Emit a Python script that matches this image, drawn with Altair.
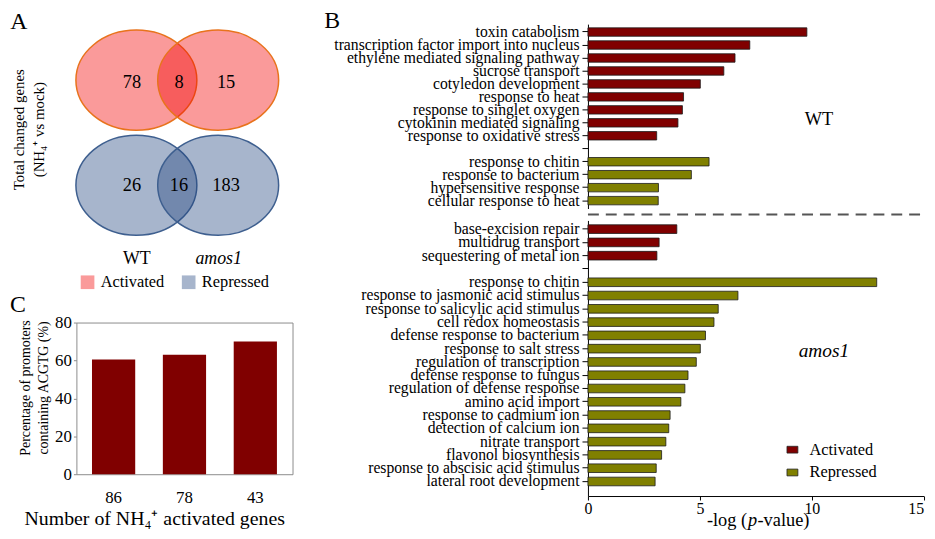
import altair as alt
import pandas as pd

FONT = "Liberation Serif"
W, H = 927, 523

# ---------------- Panel A (Venn) ----------------
venn_sets = ["WT", "amos1"]
venn_regs = ["Activated", "Repressed"]
venn_regions = ["WT only", "both", "amos1 only"]
venn_act_counts = [78, 8, 15]
venn_rep_counts = [26, 16, 183]

# ---------------- Panel C ----------------
c_cats = ["86", "78", "43"]
c_vals = [60.5, 63.0, 70.0]

# ---------------- Panel B ----------------
wt_act_terms = ["toxin catabolism", "transcription factor import into nucleus",
                "ethylene mediated signaling pathway", "sucrose transport",
                "cotyledon development", "response to heat",
                "response to singlet oxygen", "cytokinin mediated signaling",
                "response to oxidative stress"]
wt_act_vals = [9.78, 7.23, 6.57, 6.07, 5.02, 4.27, 4.22, 4.02, 3.07]
wt_rep_terms = ["response to chitin", "response to bacterium\u00a0",
                "hypersensitive response", "cellular response to heat"]
wt_rep_vals = [5.41, 4.62, 3.15, 3.14]

am_act_terms = ["base-excision repair", "multidrug transport",
                "sequestering of metal ion"]
am_act_vals = [3.97, 3.18, 3.08]
am_rep_terms = ["response to chitin", "response to jasmonic acid stimulus",
                "response to salicylic acid stimulus", "cell redox homeostasis",
                "defense response to bacterium", "response to salt stress",
                "regulation of transcription", "defense response to fungus",
                "regulation of defense response", "amino acid import",
                "response to cadmium ion", "detection of calcium ion",
                "nitrate transport", "flavonol biosynthesis",
                "response to abscisic acid stimulus", "lateral root development"]
am_rep_vals = [12.9, 6.70, 5.82, 5.63, 5.25, 5.02, 4.84, 4.47, 4.33, 4.15,
               3.67, 3.61, 3.48, 3.29, 3.05, 3.00]

# ---------------- tables ----------------
venn_df = pd.DataFrame([{"set": s, "reg": r} for r in venn_regs for s in venn_sets])
venn_txt = pd.DataFrame(
    [{"reg": "Activated", "region": g, "count": c} for g, c in zip(venn_regions, venn_act_counts)]
    + [{"reg": "Repressed", "region": g, "count": c} for g, c in zip(venn_regions, venn_rep_counts)]
)
c_df = pd.DataFrame({"n": c_cats, "pct": c_vals})

wt_df = pd.DataFrame({
    "term": wt_act_terms + wt_rep_terms,
    "val": wt_act_vals + wt_rep_vals,
    "type": ["Activated"] * len(wt_act_terms) + ["Repressed"] * len(wt_rep_terms),
})
am_df = pd.DataFrame({
    "term": am_act_terms + am_rep_terms,
    "val": am_act_vals + am_rep_vals,
    "type": ["Activated"] * len(am_act_terms) + ["Repressed"] * len(am_rep_terms),
})
wt_domain = wt_act_terms + ["gap"] + wt_rep_terms
am_domain = am_act_terms + ["gap"] + am_rep_terms

ellipse_path = ("M1,0 C1,0.4573 0.5523,0.828 0,0.828 C-0.5523,0.828 -1,0.4573 -1,0 "
                "C-1,-0.4573 -0.5523,-0.828 0,-0.828 C0.5523,-0.828 1,-0.4573 1,0 Z")
rect_path = "M-1,-0.62 H1 V0.62 H-1 Z"

# ---- Venn ellipses ----
venn_layer = alt.Chart(venn_df).mark_point(
    filled=True, shape=ellipse_path, size=14884, opacity=1,
    fillOpacity=0.4, strokeOpacity=1, strokeWidth=1.5
).encode(
    x=alt.X("set:N", scale=alt.Scale(type="point", domain=venn_sets, range=[129.5, 212], padding=0),
            axis=alt.Axis(orient="bottom", offset=-282, domain=False, ticks=False, grid=False,
                          labelFont=FONT, labelFontSize=18, labelColor="black", labelAngle=0,
                          labelPadding=0, title=None,
                          labelFontStyle={"condition": {"test": "datum.value == 'amos1'", "value": "italic"},
                                          "value": "normal"})),
    y=alt.Y("reg:N", scale=alt.Scale(type="point", domain=venn_regs, range=[70.5, 176.5], padding=0),
            axis=None),
    color=alt.Color("reg:N", scale=alt.Scale(domain=venn_regs, range=["#f20303", "#23467f"]),
                    legend=alt.Legend(orient="none", legendX=72, legendY=266, direction="horizontal",
                                      title=None, symbolType="square", symbolSize=190,
                                      symbolOpacity=0.4, symbolStrokeWidth=0,
                                      labelFont=FONT, labelFontSize=16.5, labelColor="black",
                                      labelOffset=5, columnPadding=16, padding=0)),
    stroke=alt.Stroke("reg:N", scale=alt.Scale(domain=venn_regs, range=["#e8731c", "#3e5f8f"]),
                      legend=None),
)

venn_num = alt.Chart(venn_txt).mark_text(font=FONT, fontSize=18.5, color="black").encode(
    x=alt.X("region:N", scale=alt.Scale(type="point", domain=venn_regions, range=[125, 220], padding=0),
            axis=None),
    y=alt.Y("reg:N", scale=alt.Scale(type="point", domain=venn_regs, range=[72.5, 176.5], padding=0),
            axis=None),
    text="count:Q",
)

a_title = alt.Chart(pd.DataFrame({"t": [["Total changed genes", "(NH\u2084\u207a vs mock)"]]})).mark_text(
    font=FONT, fontSize=15, angle=270, align="center", baseline="middle", lineHeight=20, color="black"
).encode(x=alt.value(11.5), y=alt.value(120.5), text="t")

# ---- Panel C ----
c_bars = alt.Chart(c_df).mark_bar(color="#800000").encode(
    x=alt.X("n:N", sort=c_cats,
            scale=alt.Scale(domain=c_cats, range=[69, 287], paddingInner=0.39, paddingOuter=0.22),
            axis=alt.Axis(orient="bottom", offset=-55, ticks=False, grid=False, domainColor="#8c8c8c",
                          labelFont=FONT, labelFontSize=17, labelColor="black", labelAngle=0,
                          labelPadding=16, title=None)),
    y=alt.Y("pct:Q", scale=alt.Scale(domain=[0, 80], range=[468, 315], nice=False, zero=True),
            axis=alt.Axis(orient="left", offset=-69, values=[0, 20, 40, 60, 80], grid=False,
                          tickSize=3, tickColor="#8c8c8c", domainColor="#8c8c8c",
                          labelFont=FONT, labelFontSize=17, labelColor="black",
                          labelPadding=2, title=None)),
)
c_frame = alt.Chart(c_df).mark_bar(opacity=0).encode(
    x=alt.X("n:N", sort=c_cats,
            scale=alt.Scale(domain=c_cats, range=[69, 287], paddingInner=0.39, paddingOuter=0.22),
            axis=alt.Axis(orient="top", offset=-315, ticks=False, labels=False, grid=False,
                          domainColor="#8c8c8c", title=None)),
    y=alt.Y("pct:Q", scale=alt.Scale(domain=[0, 80], range=[468, 315], nice=False),
            axis=alt.Axis(orient="right", offset=-640, ticks=False, labels=False, grid=False,
                          domainColor="#8c8c8c", title=None)),
)
c_ytitle = alt.Chart(pd.DataFrame({"t": [["Percentage of promoters", "containing ACGTG (%)"]]})).mark_text(
    font=FONT, fontSize=14, angle=270, align="center", baseline="middle", lineHeight=18, color="black"
).encode(x=alt.value(18), y=alt.value(381), text="t")
c_xtitle = alt.Chart(pd.DataFrame({"t": ["Number of NH\u2084\u207a activated genes"]})).mark_text(
    font=FONT, fontSize=20, align="center", baseline="alphabetic", color="black"
).encode(x=alt.value(148), y=alt.value(519), text="t")

# ---- Panel B ----
x_scale_b = alt.Scale(domain=[0, 15], range=[585, 923.7], nice=False, zero=True)
color_b = alt.Scale(domain=["Activated", "Repressed"], range=["#800000", "#808000"])
label_expr = "datum.value == 'gap' ? '' : datum.value"

wt_bars = alt.Chart(wt_df).mark_bar(stroke="#1a1a1a", strokeWidth=0.8).encode(
    x=alt.X("val:Q", scale=x_scale_b, axis=None),
    y=alt.Y("term:N", sort=wt_domain,
            scale=alt.Scale(domain=wt_domain, range=[14, 200], paddingInner=0.35,
                            paddingOuter=0.285, align=0.5),
            axis=alt.Axis(orient="left", offset=-585, tickSize=6, tickColor="black",
                          domainColor="black", grid=False, labelExpr=label_expr,
                          labelFont=FONT, labelFontSize=15.8, labelColor="black",
                          labelPadding=3, title=None, labelLimit=400)),
    color=alt.Color("type:N", scale=color_b, legend=None),
)
am_bars = alt.Chart(am_df).mark_bar(stroke="#1a1a1a", strokeWidth=0.8).encode(
    x=alt.X("val:Q", scale=x_scale_b,
            axis=alt.Axis(orient="bottom", offset=-33, values=[0, 5, 10, 15], tickSize=4,
                          tickColor="black", domainColor="black", grid=False, labelFlush=False,
                          labelOverlap=False, labelFont=FONT, labelFontSize=16,
                          labelAlign={"condition": {"test": "datum.value == 15", "value": "right"},
                                      "value": "center"},
                          labelColor="black", labelPadding=1, title=None)),
    y=alt.Y("term:N", sort=am_domain,
            scale=alt.Scale(domain=am_domain, range=[212, 490], paddingInner=0.35,
                            paddingOuter=0.55, align=0.3),
            axis=alt.Axis(orient="left", offset=-585, tickSize=6, tickColor="black",
                          domainColor="black", grid=False, labelExpr=label_expr,
                          labelFont=FONT, labelFontSize=15.8, labelColor="black",
                          labelPadding=3, title=None, labelLimit=400)),
    color=alt.Color("type:N", scale=color_b,
                    legend=alt.Legend(orient="none", legendX=783, legendY=435, direction="vertical",
                                      title=None, symbolType=rect_path, symbolSize=121,
                                      symbolStrokeColor="#222222", symbolStrokeWidth=0.8,
                                      labelFont=FONT, labelFontSize=16.5, labelColor="black",
                                      labelOffset=9, rowPadding=6, padding=0)),
)

sep = alt.Chart(pd.DataFrame({"a": [0]})).mark_rule(
    strokeDash=[11, 7], strokeWidth=2, color="#555555"
).encode(x=alt.value(585), x2=alt.value(922), y=alt.value(206))


def label(txt, x, y, size, style="normal", align="center", baseline="middle"):
    return alt.Chart(pd.DataFrame({"t": [txt]})).mark_text(
        font=FONT, fontSize=size, fontStyle=style, align=align, baseline=baseline, color="black"
    ).encode(x=alt.value(x), y=alt.value(y), text="t:N")


annotations = [
    label("A", 11, 12, 24),
    label("B", 327, 11, 24),
    label("C", 10, 297, 24),
    label("WT", 818, 109.5, 18.5),
    label("amos1", 823, 344, 19.5, style="italic"),
    label("-log (", 705, 520, 18.5, align="left", baseline="alphabetic"),
    label("p", 746.5, 520, 18.5, style="italic", align="left", baseline="alphabetic"),
    label("-value)", 756, 520, 18.5, align="left", baseline="alphabetic"),
]

chart = alt.layer(
    venn_layer, venn_num, a_title,
    c_bars, c_frame, c_ytitle, c_xtitle,
    wt_bars, am_bars, sep, *annotations
).resolve_scale(
    x="independent", y="independent", color="independent", stroke="independent"
).properties(
    width=W, height=H, autosize=alt.AutoSizeParams(type="none"), padding=0
).configure_view(stroke=None).configure_axis(grid=False)

chart.save("out.html", embed_options={"renderer": "svg", "actions": False})
